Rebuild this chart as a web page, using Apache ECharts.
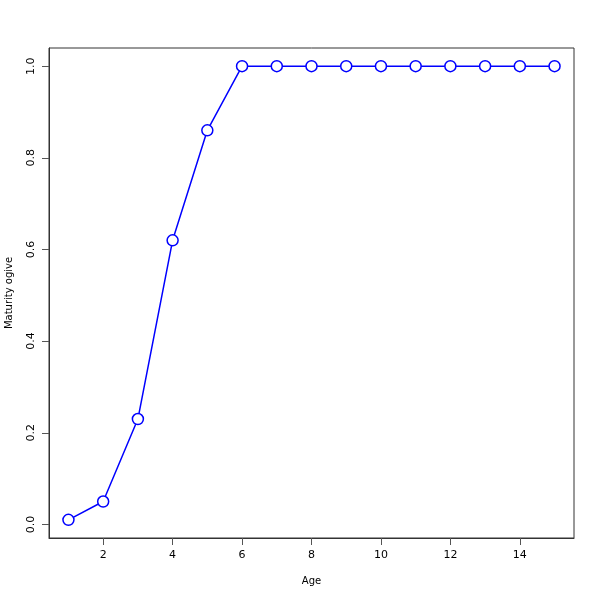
<!DOCTYPE html>
<html>
<head>
<meta charset="utf-8">
<script src="https://cdn.jsdelivr.net/npm/echarts@6/dist/echarts.min.js"></script>
<style>html,body{margin:0;padding:0;background:#fff;}#c{width:600px;height:600px;}</style>
</head>
<body>
<div id="c"></div>
<script>
var ages = [1,2,3,4,5,6,7,8,9,10,11,12,13,14,15];
var maturity = [0.01,0.05,0.23,0.62,0.86,1,1,1,1,1,1,1,1,1,1];
var xTicks = [2,4,6,8,10,12,14];
var yTicks = [0,0.2,0.4,0.6,0.8,1.0];

var chart = echarts.init(document.getElementById('c'), null, {renderer:'canvas'});
var font = 'DejaVu Sans, sans-serif';
chart.setOption({
  animation:false,
  backgroundColor:'#fff',
  grid:{left:49,right:26,top:48,bottom:62,containLabel:false,outerBoundsMode:'none',show:true,borderColor:'#333',borderWidth:1,backgroundColor:'transparent'},
  xAxis:{
    type:'value', min:0.44, max:15.56,
    name:'Age', nameLocation:'middle', nameGap:38,
    nameTextStyle:{color:'#000',fontSize:10,fontFamily:font},
    axisLine:{show:true,onZero:false,lineStyle:{color:'#333',width:1}},
    axisTick:{show:true,inside:false,length:7,customValues:xTicks,lineStyle:{color:'#555'}},
    axisLabel:{customValues:xTicks,color:'#000',fontSize:11,fontFamily:font,margin:12,formatter:function(v){return String(v);}},
    splitLine:{show:false}
  },
  yAxis:{
    type:'value', min:-0.0296, max:1.0396,
    name:'Maturity ogive', nameLocation:'middle', nameGap:35,
    nameTextStyle:{color:'#000',fontSize:10,fontFamily:font},
    axisLine:{show:true,onZero:false,lineStyle:{color:'#333',width:1}},
    axisTick:{show:true,inside:false,length:7,customValues:yTicks,lineStyle:{color:'#555'}},
    axisLabel:{customValues:yTicks,color:'#000',fontSize:11,fontFamily:font,margin:12,rotate:90,formatter:function(v){return v.toFixed(1);}},
    splitLine:{show:false}
  },
  series:[{
    type:'line',
    data:ages.map(function(a,i){return [a,maturity[i]];}),
    symbol:'circle', symbolSize:11,
    lineStyle:{color:'#0000ff',width:1.5},
    itemStyle:{color:'#fff',borderColor:'#0000ff',borderWidth:1.5}
  }]
});
</script>
</body>
</html>
